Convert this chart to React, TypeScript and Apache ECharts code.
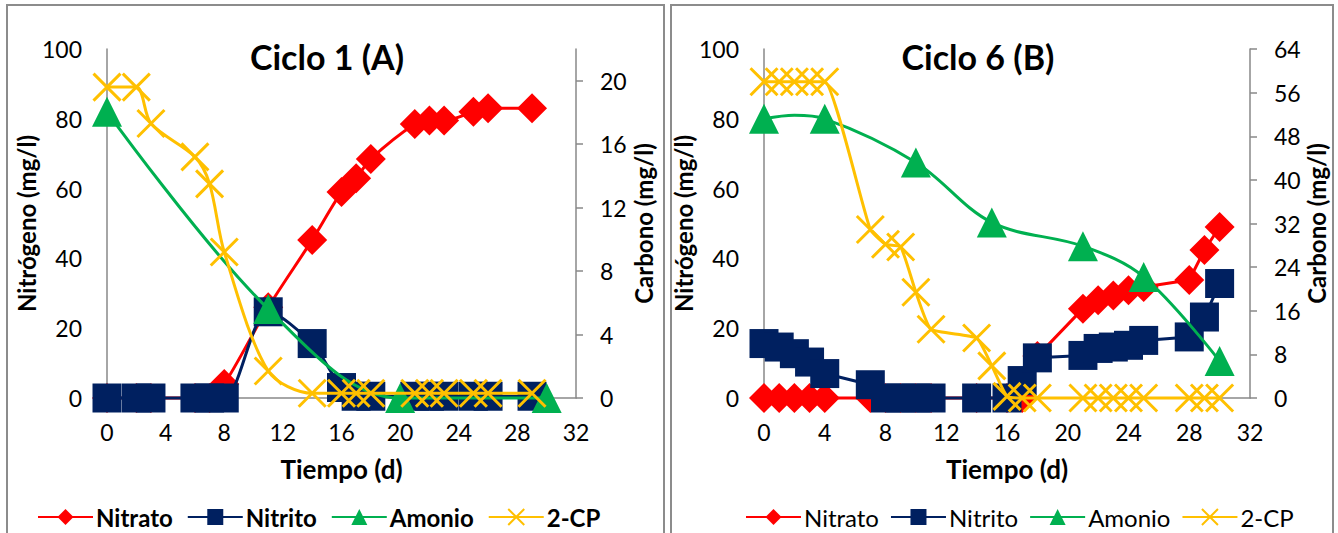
import React, { useEffect, useRef } from "react";
import * as echarts from "echarts";

// ---- Ciclo 1 (A) ----
const daysA = [0, 2, 3, 6, 7, 8, 11, 14, 16, 17, 18, 21, 22, 23, 25, 26, 29];
const nitratoA = [0, 0, 0, 0, 0, 4, 26, 45.3, 59, 63, 68.5, 78.5, 79.5, 79.5, 82, 83, 83];
const nitritoA = [0, 0, 0, 0, 0, 0, 24.7, 15.6, 3, 0.5, 0.5, 0.5, 0.5, 0.5, 0.5, 0.5, 0.5];
const amonioDaysA = [0, 11, 20, 30];
const amonioA = [82, 25.5, 0, 0];
const cpA = [19.6, 19.6, 17.3, 15.2, 13.5, 9.2, 1.7, 0.3, 0.3, 0.3, 0.3, 0.3, 0.3, 0.3, 0.3, 0.3, 0.3];

// ---- Ciclo 6 (B) ----
const daysB = [0, 1, 2, 3, 4, 7, 8, 9, 10, 11, 14, 16, 17, 18, 21, 22, 23, 24, 25, 28, 29, 30];
const nitratoB = [0, 0, 0, 0, 0, 0, 0, 0, 0, 0, 0, 0, 0, 12, 25.6, 28, 29.4, 30.9, 31.8, 33.8, 42.4, 49];
const nitritoB = [15.6, 14.6, 12.7, 10.3, 7, 3.8, 0, 0, 0, 0, 0, 0, 5, 11.5, 12.2, 14.2, 14.6, 15.1, 16.5, 17.5, 23.2, 32.8];
const amonioDaysB = [0, 2, 4, 10, 15, 21, 25, 30];
const amonioB = [80, 81, 80, 67.5, 50.3, 43.5, 34.7, 10.6];
const cpDaysB = [0, 1, 2, 3, 4, 7, 8, 9, 10, 11, 14, 15, 16, 17, 18, 21, 22, 23, 24, 25, 28, 29, 30];
const cpB = [58, 58, 58, 58, 58, 30.9, 28.2, 27.7, 19.4, 12.6, 11, 5.9, 0.3, 0, 0, 0, 0, 0, 0, 0, 0, 0, 0];

const xTicks = [0, 4, 8, 12, 16, 20, 24, 28, 32];
const carbonTicksA = [0, 4, 8, 12, 16, 20];
const carbonTicksB = [0, 8, 16, 24, 32, 40, 48, 56, 64];
const legendNames = ["Nitrato", "Nitrito", "Amonio", "2-CP"];

const RED = "#FF0000";
const NAVY = "#002060";
const GREEN = "#00B050";
const GOLD = "#FFC000";
const AXIS = "#898989";
const FONT = "Lato, 'Open Sans', sans-serif";
const XSYM = "path://M0,0L20,20M20,0L0,20";

const pts = (d: number[], v: number[]) => d.map((x, i) => [x, v[i]]);

function makeSeries(
  gi: number,
  nit: number[][],
  nitr: number[][],
  amo: any[],
  cp: number[][],
  smoothN: number | boolean,
  smoothCp: number | boolean
) {
  const ya = gi * 2;
  return [
    {
      name: "Nitrato", type: "line", xAxisIndex: gi, yAxisIndex: ya, data: nit, smooth: smoothN,
      symbol: "diamond", symbolSize: 30, clip: false, z: 2,
      lineStyle: { color: RED, width: 3 }, itemStyle: { color: RED },
    },
    {
      name: "Nitrito", type: "line", xAxisIndex: gi, yAxisIndex: ya, data: nitr, smooth: smoothN,
      symbol: "rect", symbolSize: 29, clip: false, z: 3,
      lineStyle: { color: NAVY, width: 3 }, itemStyle: { color: NAVY },
    },
    {
      name: "Amonio", type: "line", xAxisIndex: gi, yAxisIndex: ya, data: amo, smooth: 0.35,
      symbol: "triangle", symbolSize: 30, clip: false, z: 4,
      lineStyle: { color: GREEN, width: 3 }, itemStyle: { color: GREEN },
    },
    {
      name: "2-CP", type: "line", xAxisIndex: gi, yAxisIndex: ya + 1, data: cp, smooth: smoothCp,
      symbol: XSYM, symbolSize: 27, clip: false, z: 5,
      lineStyle: { color: GOLD, width: 3 },
      itemStyle: { color: GOLD, borderColor: GOLD, borderWidth: 3 },
    },
  ];
}

const xAxisCfg = (gi: number) => ({
  type: "value", gridIndex: gi, min: 0, max: 32, interval: 4,
  axisLine: { show: true, lineStyle: { color: AXIS, width: 1.5 } },
  axisTick: { show: false },
  splitLine: { show: false },
  axisLabel: { fontSize: 23, color: "#000", fontFamily: FONT, margin: 22, customValues: xTicks },
  name: "Tiempo (d)", nameLocation: "middle", nameGap: 58,
  nameTextStyle: { fontSize: 26, fontWeight: "bold", color: "#000", fontFamily: FONT },
});

const yLeft = (gi: number, gap: number) => ({
  type: "value", gridIndex: gi, position: "left", min: 0, max: 100, interval: 20,
  axisLine: { show: true, lineStyle: { color: AXIS, width: 1.5 } },
  axisTick: { show: false },
  splitLine: { show: false },
  axisLabel: { fontSize: 23, color: "#000", fontFamily: FONT, margin: 25 },
  name: "Nitrógeno (mg/l)", nameLocation: "middle", nameGap: gap, nameRotate: 90,
  nameTextStyle: { fontSize: 24, fontWeight: "bold", color: "#000", fontFamily: FONT },
});

const yRight = (gi: number, max: number, interval: number, ticks: number[], gap: number) => ({
  type: "value", gridIndex: gi, position: "right", min: 0, max, interval,
  axisLine: { show: true, lineStyle: { color: AXIS, width: 1.5 } },
  axisTick: { show: true, length: 7, lineStyle: { color: AXIS, width: 1.5 }, customValues: ticks },
  splitLine: { show: false },
  axisLabel: { fontSize: 23, color: "#000", fontFamily: FONT, margin: 24, customValues: ticks },
  name: "Carbono (mg/l)", nameLocation: "middle", nameGap: gap, nameRotate: 90,
  nameTextStyle: { fontSize: 24, fontWeight: "bold", color: "#000", fontFamily: FONT },
});

export default function App() {
  const ref = useRef<HTMLDivElement>(null);
  useEffect(() => {
    if (!ref.current) return;
    const chart = echarts.init(ref.current, null, { renderer: "svg" });
    const amoB = pts(amonioDaysB, amonioB).map((p, i) =>
      amonioDaysB[i] === 2 ? { value: p, symbol: "none" } : p
    );
    chart.setOption({
      animation: false,
      backgroundColor: "#fff",
      grid: [
        { left: 107, top: 49, width: 469, height: 349 },
        { left: 764, top: 49, width: 486, height: 349 },
      ],
      xAxis: [xAxisCfg(0), xAxisCfg(1)],
      yAxis: [
        yLeft(0, 59),
        yRight(0, 22, 4, carbonTicksA, 55),
        yLeft(1, 55),
        yRight(1, 64, 8, carbonTicksB, 52),
      ],
      legend: [
        {
          data: legendNames, left: 32, top: 500, itemWidth: 55, itemHeight: 20, itemGap: 14,
          selectedMode: false,
          textStyle: { fontSize: 24, fontWeight: "bold", color: "#000", fontFamily: FONT, padding: [0, 0, 0, -2] },
        },
        {
          data: legendNames, left: 740, top: 500, itemWidth: 55, itemHeight: 20, itemGap: 11,
          selectedMode: false,
          textStyle: { fontSize: 24, color: "#000", fontFamily: FONT, padding: [0, 0, 0, -2] },
        },
      ],
      graphic: [
        { type: "rect", shape: { x: 7, y: 5, width: 657, height: 545 }, style: { fill: "none", stroke: "#8c8c8c", lineWidth: 2 }, silent: true },
        { type: "rect", shape: { x: 671, y: 5, width: 662, height: 545 }, style: { fill: "none", stroke: "#8c8c8c", lineWidth: 2 }, silent: true },
        { type: "text", x: 327, y: 56, style: { text: "Ciclo 1 (A)", font: `bold 34px ${FONT}`, fill: "#000", textAlign: "center", textVerticalAlign: "middle" } },
        { type: "text", x: 978, y: 56, style: { text: "Ciclo 6 (B)", font: `bold 34px ${FONT}`, fill: "#000", textAlign: "center", textVerticalAlign: "middle" } },
      ],
      series: [
        ...makeSeries(0, pts(daysA, nitratoA), pts(daysA, nitritoA), pts(amonioDaysA, amonioA), pts(daysA, cpA), 0.3, 0.3),
        ...makeSeries(1, pts(daysB, nitratoB), pts(daysB, nitritoB), amoB, pts(cpDaysB, cpB), false, 0.15),
      ],
    });
    return () => chart.dispose();
  }, []);
  return <div ref={ref} style={{ position: "absolute", left: 0, top: 0, width: 1338, height: 533 }} />;
}
